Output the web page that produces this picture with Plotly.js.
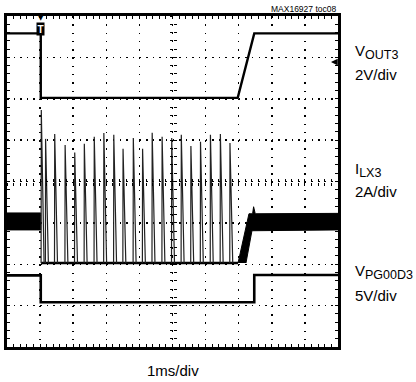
<!DOCTYPE html>
<html>
<head>
<meta charset="utf-8">
<script src="https://cdn.plot.ly/plotly-3.0.1.min.js"></script>
<style>html,body{margin:0;padding:0;background:#fff;}#chart{width:416px;height:382px;}</style>
</head>
<body>
<div id="chart"></div>
<script>
// Time axis: 1 ms per division, 10 divisions. Vertical axis: divisions (0..8).
const VOUT3_t = [0, 1.02, 1.02, 6.97, 7.47, 10];
const VOUT3_v = [7.58, 7.58, 6.02, 6.02, 7.58, 7.58];

const VPG_t = [0, 1.02, 1.02, 7.47, 7.47, 10];
const VPG_v = [1.73, 1.73, 1.08, 1.08, 1.74, 1.74];

const ILX_base = 2.03;
const ILX_baseEnd = 6.98;
const spikeT = [1.03, 1.16, 1.435, 1.75, 2.04, 2.33, 2.63, 2.92, 3.22, 3.50, 3.81, 4.09, 4.38, 4.68, 4.97, 5.26, 5.55, 5.84, 6.14, 6.44, 6.73];
const spikePeak = [5.73, 5.03, 5.15, 4.88, 4.70, 4.91, 5.08, 5.17, 5.13, 4.79, 5.05, 4.79, 5.18, 5.08, 5.05, 5.13, 4.86, 4.96, 5.13, 5.15, 4.93];

const bandLeft_t = [0, 1.02, 1.02, 0];
const bandLeft_v = [3.24, 3.24, 2.83, 2.83];
const bandRight_t = [6.98, 7.31, 7.42, 7.45, 7.50, 10, 10, 7.40, 7.22];
const bandRight_v = [2.03, 3.22, 3.22, 3.39, 3.22, 3.23, 2.83, 2.81, 2.03];

// build spike trace from the spike table
const ilxX = [], ilxY = [];
for (let i = 0; i < spikeT.length; i++) {
  ilxX.push(spikeT[i], spikeT[i] + 0.006, spikeT[i] + 0.09, null);
  ilxY.push(ILX_base, spikePeak[i], ILX_base, null);
}

const traces = [
  {x: bandLeft_t, y: bandLeft_v, mode: 'lines', fill: 'toself', fillcolor: '#000', line: {color: '#000', width: 1}, hoverinfo: 'skip'},
  {x: bandRight_t, y: bandRight_v, mode: 'lines', fill: 'toself', fillcolor: '#000', line: {color: '#000', width: 1}, hoverinfo: 'skip'},
  {x: [spikeT[0], ILX_baseEnd], y: [ILX_base, ILX_base], mode: 'lines', line: {color: '#000', width: 2.6}},
  {x: ilxX, y: ilxY, mode: 'lines', line: {color: '#222', width: 1.2}, connectgaps: false},
  {x: VOUT3_t, y: VOUT3_v, mode: 'lines', line: {color: '#000', width: 2.4}},
  {x: VPG_t, y: VPG_v, mode: 'lines', line: {color: '#000', width: 2.6}},
  {x: [0], y: [0], xaxis: 'x2', yaxis: 'y2', mode: 'markers', marker: {opacity: 0}},
  {x: [0], y: [0], xaxis: 'x3', yaxis: 'y3', mode: 'markers', marker: {opacity: 0}}
];

const mainFont = "'Liberation Sans', Arial, sans-serif";
const subSpan = (s) => `<sub><span style="font-size:12.5px">${s}</span></sub>`;

const PX = (px) => (px - 7) / 331;
const PY = (py) => 1 - (py - 16) / 331;

const centerAxis = (ticks) => ({
  range: [0, 10], overlaying: 'x', anchor: 'free', position: 0.5, showgrid: false, zeroline: false,
  showline: false, ticks: ticks, ticklen: 3, tickwidth: 1, tickcolor: '#000', dtick: 0.2, tick0: 0,
  showticklabels: false, fixedrange: true
});
const centerYAxis = (ticks) => ({
  range: [0, 8], overlaying: 'y', anchor: 'free', position: 0.5, showgrid: false, zeroline: false,
  showline: false, ticks: ticks, ticklen: 3, tickwidth: 1, tickcolor: '#000', dtick: 0.2, tick0: 0,
  showticklabels: false, fixedrange: true
});

const layout = {
  width: 416, height: 382,
  margin: {l: 7, r: 78, t: 16, b: 35},
  paper_bgcolor: '#fff', plot_bgcolor: '#fff',
  showlegend: false,
  font: {family: mainFont, color: '#000', size: 15},
  xaxis: {
    range: [0, 10], dtick: 1, tick0: 0, showgrid: true, gridcolor: '#000', gridwidth: 1.5,
    griddash: '1.5px,6.78px', zeroline: false, showline: true, linecolor: '#000', linewidth: 3,
    mirror: 'allticks', ticks: 'inside', ticklen: 3, tickcolor: '#000',
    minor: {dtick: 0.2, ticks: 'inside', ticklen: 3, tickcolor: '#000', showgrid: false},
    showticklabels: false, fixedrange: true
  },
  yaxis: {
    range: [0, 8], dtick: 1, tick0: 0, showgrid: true, gridcolor: '#000', gridwidth: 1.5,
    griddash: '1.5px,5.12px', zeroline: false, showline: true, linecolor: '#000', linewidth: 3,
    mirror: 'allticks', ticks: 'inside', ticklen: 3, tickcolor: '#000',
    minor: {dtick: 0.2, ticks: 'inside', ticklen: 3, tickcolor: '#000', showgrid: false},
    showticklabels: false, fixedrange: true
  },
  xaxis2: centerAxis('inside'),
  xaxis3: centerAxis('outside'),
  yaxis2: centerYAxis('inside'),
  yaxis3: centerYAxis('outside'),
  annotations: [
    {xref: 'paper', yref: 'paper', x: 1, y: PY(8.5), xanchor: 'right', yanchor: 'middle', showarrow: false,
     text: 'MAX16927 toc08', font: {size: 8.5}},
    {xref: 'paper', yref: 'paper', x: PX(353), y: PY(52), xanchor: 'left', yanchor: 'middle', showarrow: false,
     text: 'V' + subSpan('OUT3')},
    {xref: 'paper', yref: 'paper', x: PX(353), y: PY(74), xanchor: 'left', yanchor: 'middle', showarrow: false,
     text: '2V/div'},
    {xref: 'paper', yref: 'paper', x: PX(353), y: PY(170), xanchor: 'left', yanchor: 'middle', showarrow: false,
     text: 'I' + subSpan('LX3')},
    {xref: 'paper', yref: 'paper', x: PX(353), y: PY(191), xanchor: 'left', yanchor: 'middle', showarrow: false,
     text: '2A/div'},
    {xref: 'paper', yref: 'paper', x: PX(353), y: PY(272), xanchor: 'left', yanchor: 'middle', showarrow: false,
     text: 'V' + subSpan('PG00D3')},
    {xref: 'paper', yref: 'paper', x: PX(353), y: PY(295), xanchor: 'left', yanchor: 'middle', showarrow: false,
     text: '5V/div'},
    {xref: 'paper', yref: 'paper', x: 0.5, y: PY(370), xanchor: 'center', yanchor: 'middle', showarrow: false,
     text: '1ms/div'},
    {xref: 'x', yref: 'paper', x: 1.02, y: PY(29), xanchor: 'center', yanchor: 'middle', showarrow: false,
     text: '<b>T</b>', bgcolor: '#000', borderpad: 0, width: 7, height: 12,
     font: {size: 10, color: '#fff'}},
    {xref: 'x', yref: 'paper', x: 1.02, y: PY(18.5), xanchor: 'center', yanchor: 'middle', showarrow: false,
     text: '▼', font: {family: 'DejaVu Sans', size: 7, color: '#000'}},
    {xref: 'paper', yref: 'paper', x: PX(331), y: PY(62), showarrow: true, ax: 7, ay: 0, text: ' ',
     arrowhead: 2, arrowsize: 0.9, arrowwidth: 1.5, arrowcolor: '#000'}
  ]
};

Plotly.newPlot('chart', traces, layout, {staticPlot: true, displayModeBar: false});
</script>
</body>
</html>
